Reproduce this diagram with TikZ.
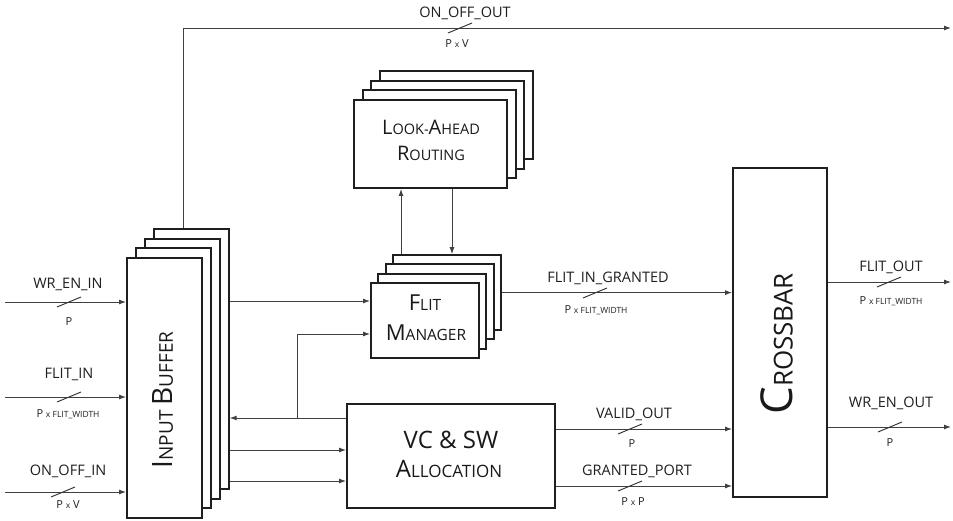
\documentclass[tikz,border=0pt]{standalone}
\usepackage{fontspec}
\setmainfont{Open Sans}
\usetikzlibrary{arrows.meta,positioning}
\newcommand{\twocap}[4]{{\fontsize{#1}{#1}\selectfont #3}{\fontsize{#2}{#2}\selectfont #4}}
\newcommand{\smallx}[1]{{\fontsize{8.5pt}{9pt}\selectfont #1}}
\newcommand{\busmark}[2]{\draw[slash] (#1-12,#2+5) -- (#1+12,#2-5);}

\begin{document}
\begin{tikzpicture}[x=1pt,y=-1pt,
  blk/.style={draw=black!88, line width=1.9pt, fill=white, inner sep=0pt},
  wire/.style={draw=black!75, line width=0.95pt},
  arr/.style={wire, -{Latex[length=7pt,width=5pt]}},
  slash/.style={draw=black!80, line width=0.95pt},
  lbl/.style={anchor=base, inner sep=0pt, font=\fontsize{14.5pt}{15pt}\selectfont, text=black!88},
  sub/.style={anchor=base, inner sep=0pt, font=\fontsize{11pt}{12pt}\selectfont, text=black!88},
  txt/.style={anchor=base, inner sep=0pt, text=black!90}]
\useasboundingbox (0,0) rectangle (953,521);

% stacked blocks
\foreach \k in {3,2,1}{
  \node[blk, minimum width=75pt, minimum height=260pt] (ib\k) at ([shift={(8.9*\k,-9.7*\k)}]164.5,388) {};
  \node[blk, minimum width=153pt, minimum height=88pt] (la\k) at ([shift={(8.7*\k,-9.7*\k)}]430.5,144) {};
  \node[blk, minimum width=108pt, minimum height=75pt] (fm\k) at ([shift={(7.3*\k,-9.3*\k)}]425,320.5) {};
}
\node[blk, minimum width=75pt, minimum height=260pt] (ib) at (164.5,388) {};
\node[blk, minimum width=153pt, minimum height=88pt] (la) at (430.5,144) {};
\node[blk, minimum width=108pt, minimum height=75pt] (fm) at (425,320.5) {};
\node[blk, minimum width=208pt, minimum height=104pt] (vc) at (451,456) {};
\node[blk, minimum width=94pt, minimum height=329pt] (xb) at (780,332.5) {};

% block texts
\node[txt, anchor=center, rotate=90, font=\fontsize{19pt}{19pt}\selectfont] (ibtxt) at (163,400) {\twocap{28pt}{19pt}{I}{NPUT} \twocap{28pt}{19pt}{B}{UFFER}};
\node[txt] (latxt1) at (431,135) {\twocap{20pt}{14.5pt}{L}{OOK-}\twocap{20pt}{14.5pt}{A}{HEAD}};
\node[txt] (latxt2) at (431,161) {\twocap{20pt}{14.5pt}{R}{OUTING}};
\node[txt] (fmtxt1) at (425,311) {\twocap{22pt}{15.5pt}{F}{LIT}};
\node[txt] (fmtxt2) at (426,340) {\twocap{22pt}{15.5pt}{M}{ANAGER}};
\node[txt, font=\fontsize{24pt}{24pt}\selectfont] (vctxt1) at (451,448) {VC \& SW};
\node[txt] (vctxt2) at (449,477) {\twocap{24pt}{17pt}{A}{LLOCATION}};
\node[txt, anchor=center, rotate=90] (xbtxt) at (777,344) {\twocap{44pt}{26pt}{C}{ROSSBAR}};

% inputs
\coordinate (wrin) at (5,302);
\coordinate (flin) at (5,397);
\coordinate (ooin) at (5,492);
\draw[arr] (wrin) -- (wrin -| ib.west);
\draw[arr] (flin) -- (flin -| ib.west);
\draw[arr] (ooin) -- (ooin -| ib.west);
\busmark{69}{302}
\busmark{69}{397}
\busmark{63}{492}
\node[lbl] (wrin-t) at (68,289) {WR\_EN\_IN};
\node[sub] (wrin-b) at (69,326) {P};
\node[lbl] (flin-t) at (69,378) {FLIT\_IN};
\node[sub] (flin-b) at (68,417) {P \smallx{x FLIT\_WIDTH}};
\node[lbl] (ooin-t) at (68,475) {ON\_OFF\_IN};
\node[sub] (ooin-b) at (68,508) {P \smallx{x} V};

% on/off out
\coordinate (ooout) at (951,28);
\draw[arr] ([xshift=-8pt]ib3.north) |- (ooout);
\busmark{460}{28}
\node[lbl] (ooout-t) at (465,18) {ON\_OFF\_OUT};
\node[sub] (ooout-b) at (457,48) {P \smallx{x} V};

% buffer to flit manager and allocator
\draw[arr] ([yshift=19.5pt]fm.west -| ib3.east) -- ([yshift=19.5pt]fm.west);
\coordinate (br) at (297,418);
\draw[arr] ([yshift=38pt]vc.west) -- ([yshift=38pt]vc.west -| ib3.east);
\draw[arr] (br) |- ([yshift=-13.5pt]fm.west);
\draw[arr] ([yshift=6pt]vc.west -| ib3.east) -- ([yshift=6pt]vc.west);
\draw[arr] ([yshift=-25pt]vc.west -| ib3.east) -- ([yshift=-25pt]vc.west);

% routing <-> flit manager
\draw[arr] ([xshift=-29.5pt]la.south |- fm3.north) -- ([xshift=-29.5pt]la.south);
\draw[arr] ([xshift=21.5pt]la.south) -- ([xshift=21.5pt]la.south |- fm3.north);

% into crossbar
\draw[arr] (fm3.east) -- (fm3.east -| xb.west);
\busmark{595}{293}
\node[lbl] (fig-t) at (608,283) {FLIT\_IN\_GRANTED};
\node[sub] (fig-b) at (596,313) {P \smallx{x FLIT\_WIDTH}};
\draw[arr] ([yshift=27pt]vc.east) -- ([yshift=27pt]vc.east -| xb.west);
\busmark{630}{429}
\node[lbl] (vo-t) at (634,418) {VALID\_OUT};
\node[sub] (vo-b) at (632,447) {P};
\draw[arr] ([yshift=-30pt]vc.east) -- ([yshift=-30pt]vc.east -| xb.west);
\busmark{630}{486}
\node[lbl] (gp-t) at (637,475) {GRANTED\_PORT};
\node[sub] (gp-b) at (633,505) {P \smallx{x} P};

% crossbar outputs
\coordinate (flout) at (951,282);
\coordinate (wrout) at (951,427);
\draw[arr] (flout -| xb.east) -- (flout);
\draw[arr] (wrout -| xb.east) -- (wrout);
\busmark{889}{282}
\busmark{890}{427}
\node[lbl] (flout-t) at (891,272) {FLIT\_OUT};
\node[sub] (flout-b) at (891,305) {P \smallx{x FLIT\_WIDTH}};
\node[lbl] (wrout-t) at (891,407) {WR\_EN\_OUT};
\node[sub] (wrout-b) at (890,446) {P};
\end{tikzpicture}
\end{document}
